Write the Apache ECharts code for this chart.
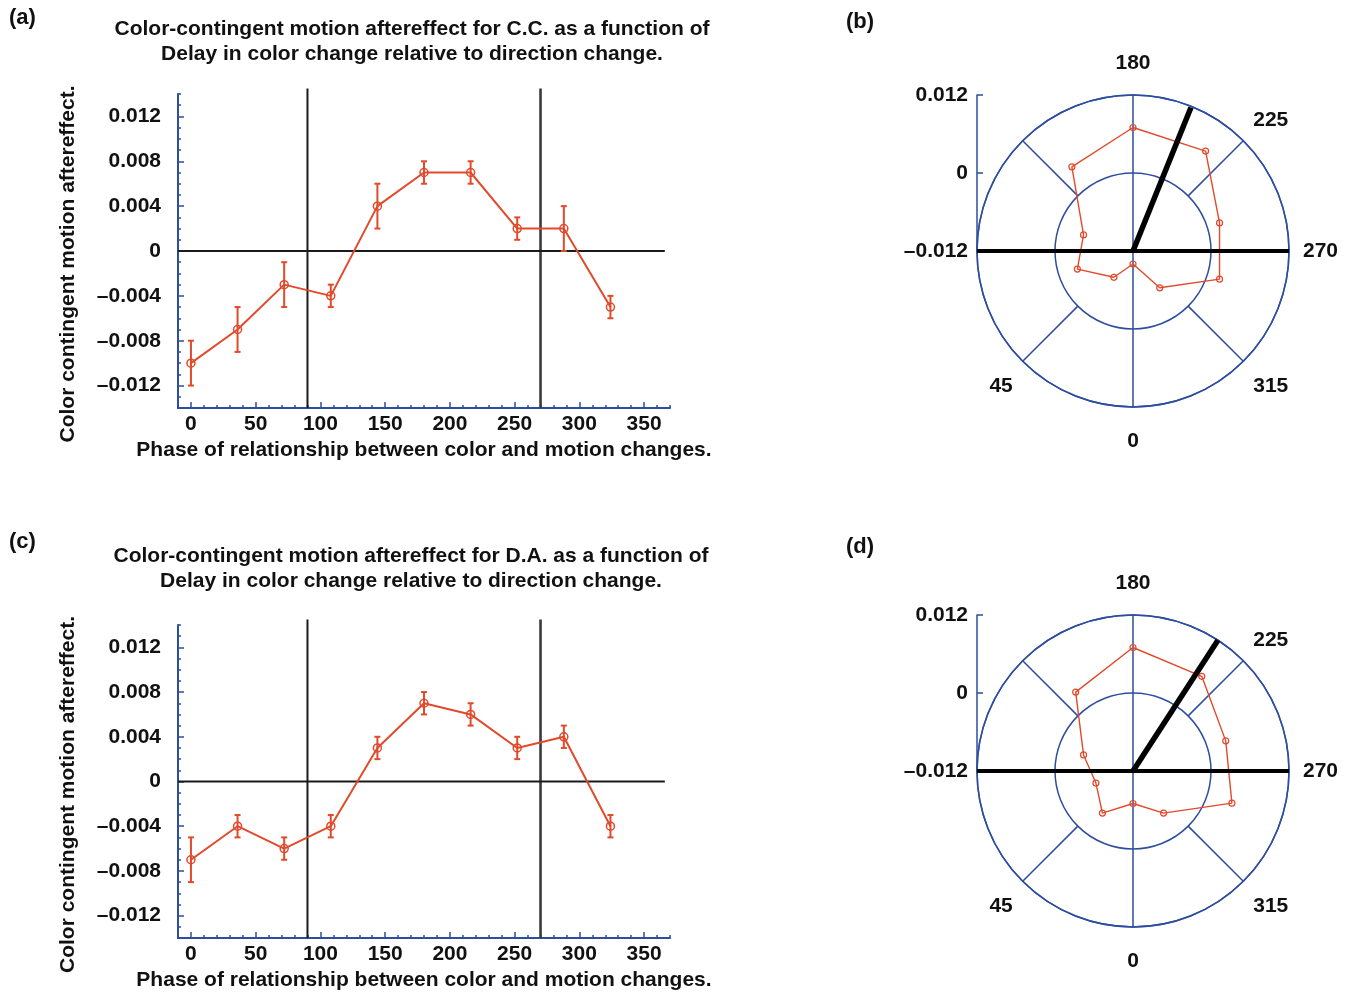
<!DOCTYPE html>
<html>
<head>
<meta charset="utf-8">
<script src="https://cdn.jsdelivr.net/npm/echarts@6/dist/echarts.min.js"></script>
<style>
html,body{margin:0;padding:0;background:#fff;}
#chart{width:1348px;height:992px;}
</style>
</head>
<body>
<div id="chart"></div>
<script>
// ---- data ----
const phases = [0, 36, 72, 108, 144, 180, 216, 252, 288, 324];
const ccValues = [-0.010, -0.007, -0.003, -0.004, 0.004, 0.007, 0.007, 0.002, 0.002, -0.005];
const ccErrors = [0.002, 0.002, 0.002, 0.001, 0.002, 0.001, 0.001, 0.001, 0.002, 0.001];
const daValues = [-0.007, -0.004, -0.006, -0.004, 0.003, 0.007, 0.006, 0.003, 0.004, -0.004];
const daErrors = [0.002, 0.001, 0.001, 0.001, 0.001, 0.001, 0.001, 0.001, 0.001, 0.001];
const vectorAngles = [202, 213];
const vectorLengths = [0.0118, 0.0123];
const refPhases = [90, 270];
const xTickLabels = [0, 50, 100, 150, 200, 250, 300, 350];
const yTickLabels = [-0.012, -0.008, -0.004, 0, 0.004, 0.008, 0.012];
const radialTicks = [-0.012, 0, 0.012];
const angleLabels = [0, 45, 180, 225, 270, 315];
const spokeAngles = [45, 135, 225, 315];
const titleA = 'Color-contingent motion aftereffect for C.C. as a function of\nDelay in color change relative to direction change.';
const titleC = 'Color-contingent motion aftereffect for D.A. as a function of\nDelay in color change relative to direction change.';
const xName = 'Phase of relationship between color and motion changes.';
const yName = 'Color contingent motion aftereffect.';
const panelLabels = ['(a)', '(b)', '(c)', '(d)'];

// ---- style ----
const RED = '#E14A2B';
const BLUE = '#2D4E9E';
const FONT = 'Liberation Sans, Arial, Helvetica, sans-serif';
const TXT = {fontFamily: FONT, fontWeight: 'bold', fontSize: 21, color: '#111'};

function fmt(v) {
  const r = Math.round(v * 1000);
  if (r === 0) return '0';
  return (r < 0 ? '\u2013' : '') + (Math.abs(r) / 1000).toFixed(3);
}

const chart = echarts.init(document.getElementById('chart'), null, {renderer: 'canvas'});

const gridDefs = [
  {left: 178, top: 94, width: 492, height: 314},
  {left: 178, top: 625, width: 492, height: 314}
];
const polarCenters = [[1133, 251], [1133, 771]];
const radialGrids = [
  {left: 977, top: 95, width: 1, height: 156},
  {left: 977, top: 615, width: 1, height: 156}
];

const xAxes = [], yAxes = [], series = [];

gridDefs.forEach((g, gi) => {
  xAxes.push({
    gridIndex: gi, type: 'value', position: 'bottom', min: -10, max: 370, interval: 10,
    axisLine: {onZero: false, lineStyle: {color: BLUE, width: 2}},
    axisTick: {inside: true, length: 3, lineStyle: {color: BLUE, width: 1.5}},
    axisLabel: {margin: 6, ...TXT, formatter: v => xTickLabels.includes(Math.round(v)) ? String(Math.round(v)) : ''},
    splitLine: {show: false},
    name: xName, nameLocation: 'middle', nameGap: 32,
    nameTextStyle: {...TXT}
  });
  xAxes.push({
    gridIndex: gi, type: 'value', position: 'bottom', min: -10, max: 370,
    axisLine: {show: false, onZero: false},
    axisTick: {inside: true, length: 6, customValues: xTickLabels, lineStyle: {color: BLUE, width: 1.5}},
    axisLabel: {show: false},
    splitLine: {show: false}
  });
  yAxes.push({
    gridIndex: gi, type: 'value', position: 'left', min: -0.014, max: 0.014, interval: 0.001,
    axisLine: {onZero: false, lineStyle: {color: BLUE, width: 2}},
    axisTick: {inside: true, length: 3, lineStyle: {color: BLUE, width: 1.5}},
    axisLabel: {margin: 17, ...TXT, formatter: v => {
      const r = Math.round(v * 1000);
      return yTickLabels.some(t => Math.round(t * 1000) === r) ? fmt(v) : '';
    }},
    splitLine: {show: false},
    name: yName, nameLocation: 'middle', nameGap: 99, nameRotate: 90,
    nameTextStyle: {...TXT, padding: [0, 26, 0, 0]}
  });
  yAxes.push({
    gridIndex: gi, type: 'value', position: 'left', min: -0.014, max: 0.014,
    axisLine: {show: false, onZero: false},
    axisTick: {inside: true, length: 6, customValues: yTickLabels, lineStyle: {color: BLUE, width: 1.5}},
    axisLabel: {show: false},
    splitLine: {show: false}
  });
});

radialGrids.forEach((g, ri) => {
  const gi = 2 + ri;
  xAxes.push({gridIndex: gi, type: 'value', show: false, min: 0, max: 1});
  yAxes.push({
    gridIndex: gi, type: 'value', position: 'left', min: -0.012, max: 0.012, interval: 0.012,
    axisLine: {show: true, onZero: false, lineStyle: {color: BLUE, width: 1.5}},
    axisTick: {show: true, inside: true, length: 6, lineStyle: {color: BLUE, width: 1.5}},
    axisLabel: {margin: 9, ...TXT, formatter: v => radialTicks.some(t => Math.round(t*1000) === Math.round(v*1000)) ? fmt(v) : ''},
    splitLine: {show: false}
  });
});

// cartesian series
const datasets = [[ccValues, ccErrors], [daValues, daErrors]];
datasets.forEach(([vals, errs], di) => {
  const xi = di * 2, yi = di * 2;
  refPhases.forEach((p, k) => {
    series.push({
      type: 'line', xAxisIndex: xi, yAxisIndex: yi, clip: false, silent: true,
      symbol: 'none', z: 1,
      lineStyle: {color: k === 0 ? '#1a1a1a' : '#3a3a3a', width: k === 0 ? 2 : 2.6},
      data: [[p, -0.014], [p, 0.0145]]
    });
  });
  series.push({
    type: 'line', xAxisIndex: xi, yAxisIndex: yi, clip: false, silent: true,
    symbol: 'none', z: 1,
    lineStyle: {color: '#1a1a1a', width: 2},
    data: [[-10, 0], [366, 0]]
  });
  series.push({
    type: 'line', xAxisIndex: xi, yAxisIndex: yi, z: 3,
    symbol: 'circle', symbolSize: 8,
    itemStyle: {color: 'rgba(255,255,255,0)', borderColor: RED, borderWidth: 1.5},
    lineStyle: {color: RED, width: 2},
    data: phases.map((p, i) => [p, vals[i]])
  });
  series.push({
    type: 'custom', xAxisIndex: xi, yAxisIndex: yi, z: 4,
    data: phases.map((p, i) => [p, vals[i] - errs[i], vals[i] + errs[i]]),
    renderItem: (params, api) => {
      const x = api.value(0);
      const a = api.coord([x, api.value(1)]);
      const b = api.coord([x, api.value(2)]);
      const w = 3;
      const st = {stroke: RED, lineWidth: 2};
      return {type: 'group', children: [
        {type: 'line', shape: {x1: a[0], y1: a[1], x2: b[0], y2: b[1]}, style: st},
        {type: 'line', shape: {x1: a[0] - w, y1: a[1], x2: a[0] + w, y2: a[1]}, style: st},
        {type: 'line', shape: {x1: b[0] - w, y1: b[1], x2: b[0] + w, y2: b[1]}, style: st}
      ]};
    }
  });
});

// polar
const polars = polarCenters.map(c => ({center: c, radius: 156}));
const angleAxes = polarCenters.map((c, pi) => ({
  polarIndex: pi, type: 'value', min: 0, max: 360, interval: 45, startAngle: 270, clockwise: true,
  axisLine: {show: true, lineStyle: {color: BLUE, width: 1.5}},
  axisTick: {show: false},
  splitLine: {show: false},
  axisLabel: {
    margin: 14, ...TXT,
    formatter: v => {
      if (v === 360 || !angleLabels.includes(v)) return '';
      if (v === 180) return '{top|' + v + '}';
      if (v === 0) return '{bot|' + v + '}';
      if (v === 45 || v === 315) return '{low|' + v + '}';
      return String(v);
    },
    rich: {
      top: {...TXT, padding: [0, 0, 7, 0]},
      bot: {...TXT, padding: [10, 0, 0, 0]},
      low: {...TXT, padding: [4, 0, 0, 0]}
    }
  }
}));
const radiusAxes = polarCenters.map((c, pi) => ({
  polarIndex: pi, type: 'value', min: -0.012, max: 0.012, interval: 0.012,
  axisLine: {show: false}, axisTick: {show: false}, axisLabel: {show: false},
  splitLine: {show: true, lineStyle: {color: BLUE, width: 1.5}}
}));

datasets.forEach(([vals], pi) => {
  spokeAngles.forEach(a => {
    series.push({
      type: 'line', coordinateSystem: 'polar', polarIndex: pi, symbol: 'none', silent: true, z: 1,
      lineStyle: {color: BLUE, width: 1.5},
      data: [[0, a], [0.012, a]]
    });
  });
  series.push({
    type: 'line', coordinateSystem: 'polar', polarIndex: pi, symbol: 'none', silent: true, z: 1,
    lineStyle: {color: BLUE, width: 1.5},
    data: [[0.012, 0], [-0.012, 0], [0.012, 180]]
  });
  const poly = phases.map((p, i) => [vals[i], p]);
  poly.push([vals[0], 360]);
  series.push({
    type: 'line', coordinateSystem: 'polar', polarIndex: pi, z: 3,
    symbol: 'circle', symbolSize: 6,
    itemStyle: {color: 'rgba(255,255,255,0)', borderColor: RED, borderWidth: 1.2},
    lineStyle: {color: RED, width: 1.4},
    data: poly.map((d, i) => i === poly.length - 1 ? {value: d, symbol: 'none'} : d)
  });
  series.push({
    type: 'line', coordinateSystem: 'polar', polarIndex: pi, symbol: 'none', silent: true, z: 5,
    lineStyle: {color: '#000', width: 4},
    data: [[0.012, 90], [-0.012, 90], [0.012, 270]]
  });
  series.push({
    type: 'line', coordinateSystem: 'polar', polarIndex: pi, symbol: 'none', silent: true, z: 5,
    lineStyle: {color: '#000', width: 5.5},
    data: [[-0.012, vectorAngles[pi]], [vectorLengths[pi], vectorAngles[pi]]]
  });
});

const titles = [
  {text: titleA, left: 412, top: 17},
  {text: titleC, left: 411, top: 544}
].map(t => ({
  text: t.text, left: t.left, top: t.top, textAlign: 'center', padding: 0,
  textStyle: {...TXT, lineHeight: 25}
}));
const labelPos = [[9, 7], [846, 11], [9, 531], [846, 536]];
panelLabels.forEach((l, i) => {
  titles.push({text: l, left: labelPos[i][0], top: labelPos[i][1], padding: 0,
    textStyle: {...TXT, fontSize: 22, lineHeight: 22}});
});

chart.setOption({
  animation: false,
  backgroundColor: '#fff',
  title: titles,
  grid: [...gridDefs, ...radialGrids],
  xAxis: xAxes,
  yAxis: yAxes,
  polar: polars,
  angleAxis: angleAxes,
  radiusAxis: radiusAxes,
  series: series
});
</script>
</body>
</html>
